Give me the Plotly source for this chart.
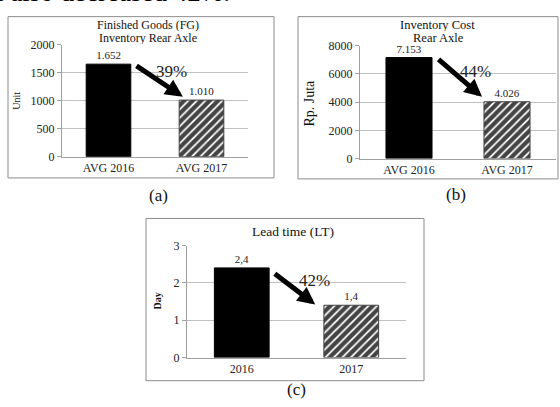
import plotly.graph_objects as go

W, H = 560, 407

# ---- data ----
cats_fg = ["AVG 2016", "AVG 2017"]
fg_units = [1652, 1010]
cats_cost = ["AVG 2016", "AVG 2017"]
cost_juta = [7153, 4026]
cats_lt = ["2016", "2017"]
lead_days = [2.4, 1.4]

SERIF = "Liberation Serif"
GRID = "#c0c0c0"
AXL = "#a0a0a0"
BORDER = "#8c8c8c"


def px(x):
    return x / W


def py(y):
    return 1 - y / H


fig = go.Figure()

panels = [
    dict(k="", cats=cats_fg, vals=fg_units, rng=[0, 2000], dtick=500,
         dom_x=[62, 248], dom_y=[39, 155], fmt="%{y:,}", bw=0.48,
         box=[8, 10, 274, 177],
         arrow=dict(tx=0.285, dt=-0.007, hx=0.80, dh=0.03),
         pct=dict(x=0.68, dy=-0.068)),
    dict(k="2", cats=cats_cost, vals=cost_juta, rng=[0, 8000], dtick=2000,
         dom_x=[360, 556], dom_y=[40, 157], fmt="%{y:,}", bw=0.47,
         box=[298, 10, 558, 178],
         arrow=dict(tx=0.286, dt=-0.005, hx=0.745, dh=0.044),
         pct=dict(x=0.68, dy=-0.125)),
    dict(k="3", cats=cats_lt, vals=lead_days, rng=[0, 3], dtick=1,
         dom_x=[187, 406], dom_y=[247, 363], fmt="%{y:.1f}", bw=0.5,
         box=[146, 219, 424, 387],
         arrow=dict(tx=0.288, dt=-0.041, hx=0.671, dh=0.007),
         pct=dict(x=0.66, dy=-0.11)),
]

for p in panels:
    k = p["k"]
    fig.add_trace(go.Bar(
        x=p["cats"], y=p["vals"], xaxis="x" + k, yaxis="y" + k,
        width=p["bw"],
        marker=dict(
            color=["black", "white"],
            line=dict(color=["black", "#404040"], width=1),
            pattern=dict(shape=["", "/"], fgcolor="black", bgcolor="white",
                         fgopacity=1, size=6, solidity=0.7),
        ),
        texttemplate=p["fmt"], textposition="outside", cliponaxis=False,
        textfont=dict(family=SERIF, size=11, color="#222"),
        showlegend=False, hoverinfo="skip",
    ))
    fig.update_layout({
        "xaxis" + k: dict(
            domain=[px(p["dom_x"][0]), px(p["dom_x"][1])],
            anchor="y" + k, type="category", showline=True, linecolor=AXL,
            linewidth=1, ticks="", showgrid=False,
            tickfont=dict(family=SERIF, size=12, color="#222"),
        ),
        "yaxis" + k: dict(
            domain=[py(p["dom_y"][1]), py(p["dom_y"][0])],
            anchor="x" + k, range=p["rng"], dtick=p["dtick"],
            showline=True, linecolor=AXL, linewidth=1, showgrid=True,
            gridcolor=GRID, gridwidth=1, zeroline=False, ticks="outside",
            ticklen=4, tickcolor=AXL,
            tickfont=dict(family=SERIF, size=12, color="#222"),
        ),
    })
    x0, y0, x1, y1 = p["box"]
    fig.add_shape(type="rect", xref="paper", yref="paper",
                  x0=px(x0), x1=px(x1), y0=py(y1), y1=py(y0),
                  line=dict(color=BORDER, width=1), fillcolor="rgba(0,0,0,0)")

    # arrow from first bar top to second bar top, with percent decrease
    v1, v2 = p["vals"]
    span = p["rng"][1] - p["rng"][0]
    a = p["arrow"]
    pct = round((1 - v2 / v1) * 100)
    fig.add_annotation(
        xref="x" + k, yref="y" + k, axref="x" + k, ayref="y" + k,
        x=a["hx"], y=v2 + a["dh"] * span, ax=a["tx"], ay=v1 + a["dt"] * span,
        text="", showarrow=True, arrowhead=2, arrowsize=0.7,
        arrowwidth=5, arrowcolor="black", standoff=0, startstandoff=0,
    )
    fig.add_annotation(
        xref="x" + k, yref="y" + k, x=p["pct"]["x"],
        y=v1 + p["pct"]["dy"] * span,
        text=f"{pct}%", showarrow=False,
        font=dict(family=SERIF, size=17, color="#222"),
    )

# ---- titles and axis titles (text, x, y, size, angle, box height) ----
texts = [
    ("Finished Goods (FG)", 148, 18.5, 12, 0, 13),
    ("Inventory Rear Axle", 148, 32, 12, 0, 13),
    ("Inventory Cost", 437, 18, 12.5, 0, 13),
    ("Rear Axle", 438, 31.5, 12.5, 0, 13),
    ("Lead time (LT)", 293, 233, 13.5, 0, None),
    ("Unit", 17, 97, 10, -90, None),
    ("Rp. Juta", 310, 100, 14, -90, None),
    ("<b>Day</b>", 158, 305, 10, -90, None),
    ("(a)", 158, 195, 17, 0, None),
    ("(b)", 456, 194, 17, 0, None),
    ("(c)", 296, 396, 17, 0, None),
]
for t, x, y, s, ang, hgt in texts:
    kw = dict(height=hgt, borderpad=0) if hgt else {}
    fig.add_annotation(xref="paper", yref="paper", x=px(x), y=py(y),
                       text=t, showarrow=False, textangle=ang,
                       xanchor="center", yanchor="middle", valign="middle",
                       font=dict(family=SERIF, size=s, color="#111"), **kw)

# partially visible body text at top
fig.add_annotation(xref="paper", yref="paper", x=px(-6), y=py(2),
                   xanchor="left", yanchor="bottom",
                   text="t also decreased 42%.", showarrow=False,
                   font=dict(family=SERIF, size=27, color="black"))

fig.update_layout(
    width=W, height=H, margin=dict(l=0, r=0, t=0, b=0),
    paper_bgcolor="white", plot_bgcolor="white",
    separators=",.", bargap=0.5,
)

fig.write_html("out.html", config={"displayModeBar": False},
               post_script="document.body.style.margin='0';"
                           "document.body.style.overflow='hidden';")
